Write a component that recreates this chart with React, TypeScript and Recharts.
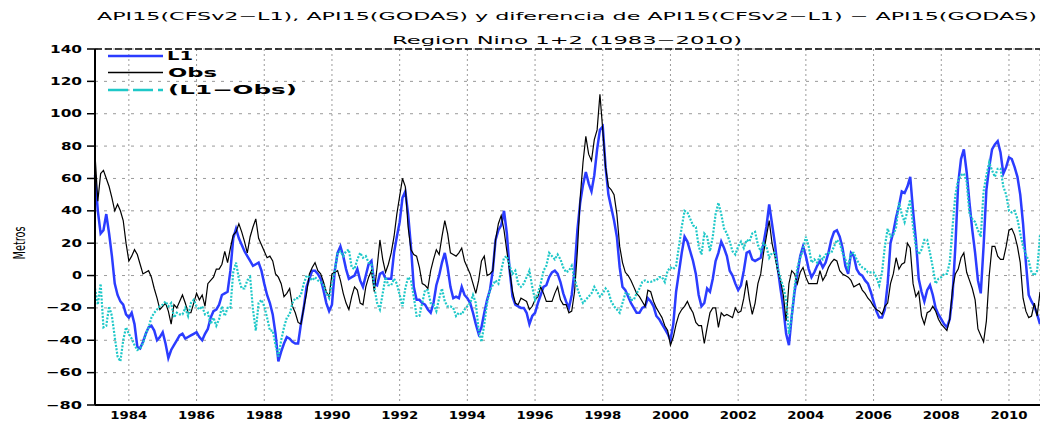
import React from "react";
import { LineChart, Line, XAxis, YAxis, CartesianGrid, ReferenceLine } from "recharts";

// monthly series, Jan 1983 .. Dec 2010 (one row per year)
const startYear = 1983;

const l1 = [
  62, 40, 26, 28, 38, 26, 12, -5, -12, -16, -18, -24,
  -26, -23, -30, -44, -45, -41, -36, -32, -31, -34, -40, -38,
  -35, -42, -51, -46, -43, -40, -37, -36, -39, -38, -37, -36,
  -35, -38, -40, -36, -33, -26, -22, -21, -18, -12, -11, -10,
  3, 23, 29, 23, 19, 15, 12, 9, 6, 7, 8, 3,
  -5, -12, -17, -24, -36, -53, -47, -42, -38, -39, -41, -42,
  -42, -30, -20, -7, -2, 3, 3, 1, -2, -9, -17, -22,
  -18, 3, 14, 18, 12, 4, -2, -1, 0, 4, -3, -7,
  0, 7, 9, -5, -6, 1, 2, -2, -2, -2, 14, 24,
  33, 48, 52, 38, 18, -7, -15, -15, -17, -18, -21, -23,
  -17, -6, 0, 8, 14, 5, -7, -14, -13, -14, -7, -12,
  -14, -17, -23, -30, -36, -32, -23, -15, -9, 3, 22, 28,
  31, 40, 26, 3, -13, -18, -19, -20, -20, -23, -30, -25,
  -23, -17, -12, -7, -6, -1, 2, 3, 1, -4, -11, -16,
  -20, -12, 3, 28, 45, 56, 64, 57, 52, 62, 78, 90,
  92, 67, 50, 42, 34, 24, 5, -7, -9, -13, -17, -20,
  -23, -23, -20, -19, -14, -16, -19, -25, -27, -30, -33, -36,
  -40, -30, -10, 2, 14, 24, 21, 15, 9, 1, -12, -19,
  -17, -8, -10, -2, 9, 14, 21, 17, 12, 3, 0, -5,
  -9, -6, 3, 14, 15, 10, 9, 10, 11, 20, 30, 44,
  32, 20, 5, -8, -20, -36, -43, -25, -10, 1, 12, 18,
  12, 4, -1, 2, 6, 9, 5, 8, 14, 22, 27, 28,
  24, 17, 6, 1, 14, 12, 4, 1, 0, -3, -5, -10,
  -16, -22, -26, -26, -21, -5, 20, 27, 36, 43, 52, 51,
  55, 61, 40, 22, -2, -10, -16, -9, -6, -12, -20, -24,
  -27, -30, -32, -27, -12, 18, 57, 72, 78, 64, 45, 28,
  14, -3, -11, 18, 53, 67, 78, 81, 83, 76, 63, 67,
  73, 72, 67, 61, 50, 32, 8, -12, -16, -19, -24, -30,
];

const obs = [
  75, 46, 63, 65, 60, 55, 48, 40, 44, 40, 34, 20,
  9, 12, 16, 13, 7, 1, 2, 3, -1, -8, -14, -21,
  -19, -17, -22, -30, -18, -20, -16, -12, -17, -23, -23, -17,
  -11, -15, -12, -19, -5, -3, -1, 4, 4, 7, 15, 8,
  17, 25, 27, 32, 27, 21, 14, 24, 30, 35, 23, 19,
  15, 11, 12, 9, 1, -1, -5, -13, -11, -8, -19, -23,
  -29, -30, -20, -11, 1, 5, 8, 3, 1, -4, -10, -13,
  1, 2, 3, -3, -11, -17, -21, -13, -7, -9, -17, -18,
  -7, -1, 3, -10, 5, 22, 10, 2, 7, 14, 24, 38,
  49, 60, 55, 30, 16, 13, 12, 5, -5, -6, -8, 3,
  10, 16, 13, 24, 34, 26, 14, 13, 12, 14, 17, 9,
  5, 1, -5, -11, -3, 9, 12, 0, 1, 3, 22, 32,
  37, 28, 15, 3, -10, -17, -18, -14, -15, -16, -21, -19,
  -15, -13, -7, -11, -16, -16, -16, -11, -7, -15, -18, -18,
  -23, -22, -10, 15, 48, 70, 86, 75, 71, 84, 90, 112,
  90, 67, 55, 53, 50, 38, 18, 8, 2, 0, -3, -7,
  -11, -13, -16, -19, -9, -10, -16, -20, -23, -26, -31, -34,
  -43, -38, -30, -24, -21, -19, -16, -20, -23, -29, -31, -31,
  -42, -32, -23, -20, -20, -32, -23, -25, -24, -25, -26, -20,
  -23, -22, -14, -3, -15, -24, -17, -5, 1, 14, 24, 34,
  20, 12, 3, -3, -12, -28, -5, 3, 1, -5, 2, 5,
  -1, -5, -5, -5, -5, 3, -3, 0, 5, 8, 10, 9,
  3, 1, 0, -1, -3, -7, -6, -5, -9, -11, -14, -16,
  -19, -21, -22, -24, -19, -17, -5, 1, 11, 4, 7, 8,
  20, 17, -5, -13, -10, -25, -30, -23, -22, -19, -22, -27,
  -30, -32, -34, -27, -8, 1, 4, 11, 14, 2, -3, -8,
  -15, -33, -37, -41, -28, 0, 18, 18, 12, 10, 10, 18,
  28, 29, 25, 18, 8, -14, -22, -26, -25, -17, -25, -10,
];

const diff = [
  -8, -18, -5, -32, -31, -19, -25, -38, -50, -53, -40, -32,
  -36, -39, -43, -46, -45, -42, -36, -32, -26, -23, -21, -19,
  -18, -16, -19, -17, -26, -23, -24, -24, -20, -25, -17, -15,
  -19, -21, -19, -24, -23, -30, -26, -31, -27, -19, -25, -20,
  -20, 2, 8, -2, -8, -8, -3, -1, -21, -34, -17, -15,
  -19, -26, -34, -34, -43, -50, -40, -32, -26, -24, -17, -14,
  -14, -12, -5, 0, -1, -3, -1, -3, -4, -6, -11, -14,
  -5, 3, 14, 15, 12, 15, 16, 5, 4, 10, 14, 11,
  12, 8, 7, -7, -17, -21, -11, -1, -6, -6, -2, -5,
  -12, -19, -8, -1, -3, -13, -25, -25, -17, -9, -9, -17,
  -18, -22, -14, -8, -16, -19, -19, -20, -25, -23, -24, -21,
  -19, -17, -12, -17, -34, -41, -30, -17, -9, -6, -3, -5,
  3, 11, 12, 6, 1, 3, -5, -7, -5, -1, 3, -7,
  -15, -11, -5, 3, 6, 14, 12, 10, 13, 10, 5, 2,
  3, 6, -2, -8, -13, -17, -15, -13, -11, -7, -10, -13,
  -11, -8, -10, -16, -19, -21, -23, -17, -11, -11, -15, -15,
  -11, -8, -4, -3, -4, -4, -3, -3, -1, -1, -4, 3,
  5, 4, 6, 18, 30, 40, 39, 35, 31, 30, 18, 13,
  26, 24, 15, 24, 38, 45, 38, 29, 26, 21, 15, 13,
  18, 21, 17, 22, 21, 26, 27, 19, 15, 20, 18, 11,
  14, 14, 5, -2, -7, -15, -36, -25, -7, 5, 11, 16,
  24, 18, 8, 10, 8, 12, 10, 13, 14, 14, 18, 22,
  20, 14, 10, 5, 14, 14, 10, 7, 5, 4, 2, 2,
  2, -1, -6, 2, 18, 29, 24, 25, 30, 45, 38, 33,
  40, 47, 30, 18, 13, 16, 22, 22, 14, 5, -5, -2,
  -1, 1, 1, 8, 30, 50, 59, 62, 63, 58, 38, 35,
  33, 28, 24, 52, 62, 70, 65, 61, 66, 66, 55, 50,
  40, 39, 40, 35, 26, 18, 13, 9, 2, 0, 3, 25,
];

const yearTicks = [1984, 1986, 1988, 1990, 1992, 1994, 1996, 1998, 2000, 2002, 2004, 2006, 2008, 2010];
const valueTicks = [-80, -60, -40, -20, 0, 20, 40, 60, 80, 100, 120, 140];

const title1 = "API15(CFSv2\u2212L1), API15(GODAS) y diferencia de API15(CFSv2\u2212L1) \u2212 API15(GODAS)";
const title2 = "Region Nino 1+2 (1983\u22122010)";
const yLabel = "Metros";

const BLUE = "#2b3cff";
const CYAN = "#1ec8c8";

const data = l1.map((v, i) => ({
  t: startYear + i / 12,
  l1: v,
  obs: obs[i],
  diff: diff[i],
}));

const tickFont = { fontFamily: "DejaVu Sans", fontWeight: 700, fontSize: 10 };

function XTick(props: any) {
  const { x, payload } = props;
  return (
    <text x={x} y={419} textAnchor="middle" fill="#000" style={tickFont}
      textLength={37} lengthAdjust="spacingAndGlyphs">
      {payload.value}
    </text>
  );
}

function YTick(props: any) {
  const { y, payload } = props;
  const v = payload.value as number;
  const s = v < 0 ? "\u2212" + Math.abs(v) : String(v);
  const w = 11 * s.length - 1 + (v < 0 ? 4 : 0);
  return (
    <text x={82} y={y + 3.5} textAnchor="end" fill="#000" style={tickFont}
      textLength={w} lengthAdjust="spacingAndGlyphs">
      {s}
    </text>
  );
}

export default function App() {
  return (
    <div style={{ position: "absolute", left: 0, top: 0, width: 1040, height: 424, background: "#fff" }}>
      <LineChart width={1040} height={424} data={data} margin={{ top: 49, right: 0, bottom: 0, left: 0 }}>
        <CartesianGrid horizontal vertical={false} stroke="#9a9a9a" strokeDasharray="3 6" />
        <CartesianGrid horizontal={false} vertical stroke="#9a9a9a" strokeDasharray="2 3" />
        <XAxis
          dataKey="t"
          type="number"
          domain={[startYear, startYear + (l1.length - 1) / 12]}
          ticks={yearTicks}
          interval={0}
          height={19}
          tick={<XTick />}
          tickLine={false}
          axisLine={{ stroke: "#000", strokeWidth: 2 }}
        />
        <YAxis
          type="number"
          domain={[-80, 140]}
          ticks={valueTicks}
          interval={0}
          width={95}
          tick={<YTick />}
          tickSize={8}
          tickLine={{ stroke: "#000", strokeWidth: 1.5 }}
          axisLine={{ stroke: "#000", strokeWidth: 2 }}
        />
        <ReferenceLine y={140} stroke="#000" strokeWidth={1.5} strokeDasharray="7 3" />
        <Line type="linear" dataKey="l1" stroke={BLUE} strokeWidth={2.5} dot={false} isAnimationActive={false} />
        <Line type="linear" dataKey="obs" stroke="#000" strokeWidth={1.2} dot={false} isAnimationActive={false} />
        <Line type="linear" dataKey="diff" stroke={CYAN} strokeWidth={2.2} strokeDasharray="2 1.5" dot={false} isAnimationActive={false} />
      </LineChart>
      <svg width={1040} height={424} style={{ position: "absolute", left: 0, top: 0, pointerEvents: "none" }}>
        <g style={{ fontFamily: "DejaVu Sans", fontSize: 10 }} fill="#000">
          <text x={97} y={20} textLength={940} lengthAdjust="spacingAndGlyphs">{title1}</text>
          <text x={392} y={44} textLength={350} lengthAdjust="spacingAndGlyphs">{title2}</text>
        </g>
        <text
          x={0}
          y={0}
          transform="translate(25,243) rotate(-90)"
          textAnchor="middle"
          style={{ fontFamily: "DejaVu Sans", fontSize: 15 }}
          textLength={33}
          lengthAdjust="spacingAndGlyphs"
        >
          {yLabel}
        </text>
        <g style={{ fontFamily: "DejaVu Sans", fontWeight: 700, fontSize: 12 }} fill="#000">
          <line x1={108} x2={163} y1={56} y2={56} stroke={BLUE} strokeWidth={2.5} />
          <text x={167} y={60} textLength={26} lengthAdjust="spacingAndGlyphs">L1</text>
          <line x1={108} x2={163} y1={72.5} y2={72.5} stroke="#000" strokeWidth={1.5} />
          <text x={168} y={77} textLength={49} lengthAdjust="spacingAndGlyphs">Obs</text>
          <line x1={108} x2={163} y1={90} y2={90} stroke={CYAN} strokeWidth={2.5} strokeDasharray="20 5" />
          <text x={168} y={94} textLength={129} lengthAdjust="spacingAndGlyphs">(L1{"\u2212"}Obs)</text>
        </g>
      </svg>
    </div>
  );
}
